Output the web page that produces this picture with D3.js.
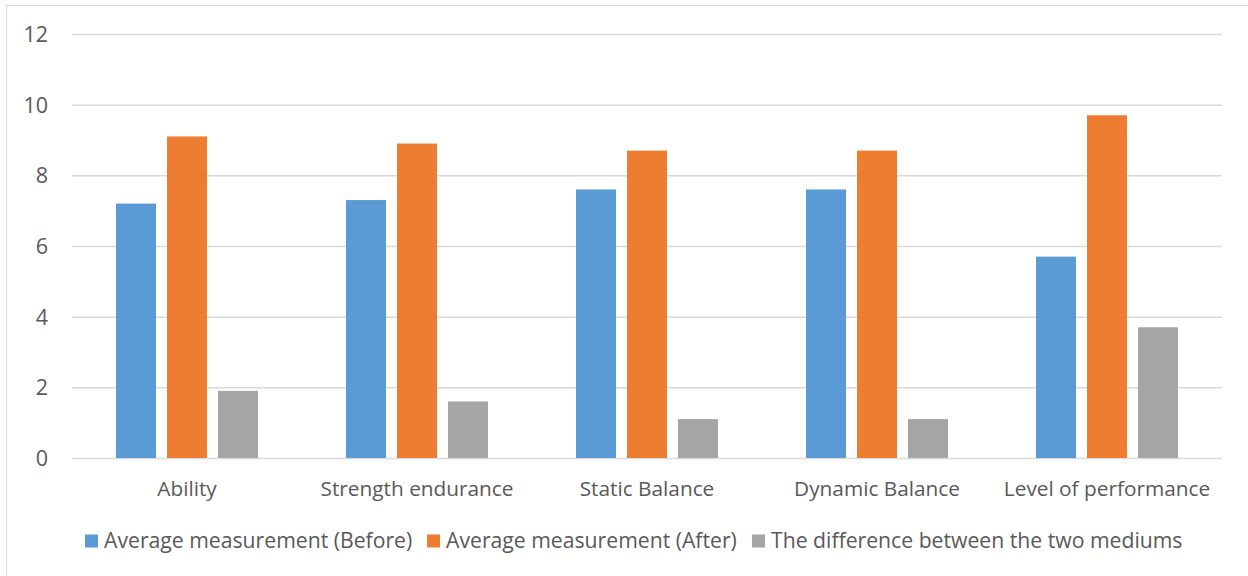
<!DOCTYPE html>
<html>
<head>
<meta charset="utf-8">
<script src="https://cdn.jsdelivr.net/npm/d3@7"></script>
<style>
  html, body { margin: 0; padding: 0; background: #fff; }
  svg { display: block; }
  svg text { font-family: "Open Sans", "Noto Sans", sans-serif; }
</style>
</head>
<body>
<svg id="chart" width="1248" height="576"></svg>
<script>
// Chart data
const categories = ["Ability", "Strength endurance", "Static Balance", "Dynamic Balance", "Level of performance"];
const seriesNames = ["Average measurement (Before)", "Average measurement (After)", "The difference between the two mediums"];
const beforeValues = [7.2, 7.3, 7.6, 7.6, 5.7];
const afterValues = [9.1, 8.9, 8.7, 8.7, 9.7];
const differenceValues = [1.9, 1.6, 1.1, 1.1, 3.7];
const yTicks = [0, 2, 4, 6, 8, 10, 12];
const seriesColors = ["#5B9BD5", "#ED7D31", "#A5A5A5"];

const seriesValues = [beforeValues, afterValues, differenceValues];
const rows = categories.map((c, i) => ({
  category: c,
  values: seriesValues.map((vals, s) => ({ series: s, value: vals[i] }))
}));

const svg = d3.select("#chart");
const W = 1248, H = 576;
const plot = { left: 72, right: 1222, top: 34, bottom: 458 };
const textColor = "#595959";
const fontStack = '"Open Sans", "Noto Sans", sans-serif';

// Outer frame
svg.append("rect")
  .attr("x", 6.5).attr("y", 5.5)
  .attr("width", W + 10).attr("height", H + 10)
  .attr("fill", "none").attr("stroke", "#D9D9D9").attr("stroke-width", 1);

const y = d3.scaleLinear().domain([0, 12]).range([plot.bottom, plot.top]);

const x0 = d3.scaleBand()
  .domain(categories)
  .range([plot.left, plot.right])
  .paddingInner(88 / 230)
  .paddingOuter(44 / 230);

const x1 = d3.scaleBand()
  .domain(d3.range(seriesNames.length))
  .range([0, x0.bandwidth()])
  .paddingInner(11 / 51);

// Gridlines and y tick labels
const yAxis = d3.axisLeft(y)
  .tickValues(yTicks)
  .tickSize(-(plot.right - plot.left))
  .tickPadding(24)
  .tickFormat(d3.format("d"));

const gy = svg.append("g")
  .attr("transform", `translate(${plot.left},0)`)
  .call(yAxis)
  .attr("font-family", fontStack)
  .attr("font-size", 21.5);
gy.select(".domain").remove();
gy.selectAll(".tick line").attr("stroke", "#D9D9D9").attr("stroke-width", 1.5);
gy.selectAll(".tick text")
  .attr("fill", textColor)
  .attr("dy", "0.35em");

// Bars
const groups = svg.append("g").selectAll("g")
  .data(rows)
  .join("g")
  .attr("transform", d => `translate(${x0(d.category)},0)`);

groups.selectAll("rect")
  .data(d => d.values)
  .join("rect")
  .attr("x", d => x1(d.series))
  .attr("y", d => y(d.value))
  .attr("width", x1.bandwidth())
  .attr("height", d => y(0) - y(d.value))
  .attr("fill", d => seriesColors[d.series]);

// Category axis labels
const xAxis = d3.axisBottom(x0).tickSize(0).tickPadding(0);
const gx = svg.append("g")
  .attr("transform", `translate(0,${plot.bottom})`)
  .call(xAxis)
  .attr("font-family", fontStack)
  .attr("font-size", 20.8);
gx.select(".domain").remove();
gx.selectAll(".tick text")
  .attr("fill", textColor)
  .attr("y", 31)
  .attr("dy", "0.35em");

// Legend
const legendItems = [
  { x: 85, name: seriesNames[0], color: seriesColors[0] },
  { x: 427, name: seriesNames[1], color: seriesColors[1] },
  { x: 752, name: seriesNames[2], color: seriesColors[2] }
];
const legend = svg.append("g")
  .attr("font-family", fontStack)
  .attr("font-size", 21.2);
const li = legend.selectAll("g").data(legendItems).join("g")
  .attr("transform", d => `translate(${d.x},541)`);
li.append("rect")
  .attr("x", 0).attr("y", -6.5)
  .attr("width", 13).attr("height", 13)
  .attr("fill", d => d.color);
li.append("text")
  .attr("x", 19)
  .attr("dy", "0.35em")
  .attr("fill", textColor)
  .text(d => d.name);
</script>
</body>
</html>
